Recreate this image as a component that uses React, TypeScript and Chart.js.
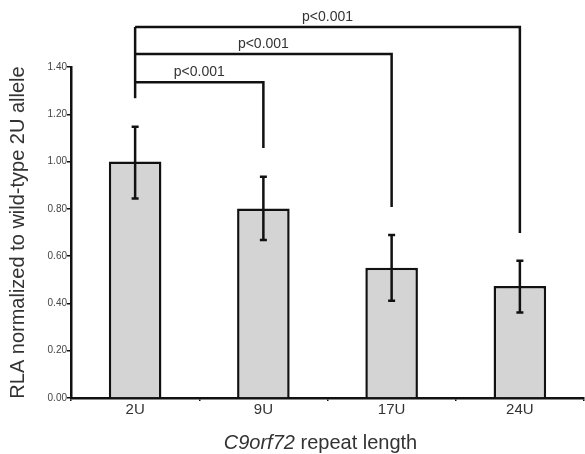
import React, { useEffect, useRef } from "react";
import { Chart, registerables } from "chart.js";

Chart.register(...registerables);

const categories = ["2U", "9U", "17U", "24U"];
const means = [1.0, 0.802, 0.551, 0.474];
const errHigh = [1.147, 0.936, 0.689, 0.581];
const errLow = [0.844, 0.668, 0.411, 0.362];
const yTicks = [0, 0.2, 0.4, 0.6, 0.8, 1.0, 1.2, 1.4];

// significance brackets: from category 0 to target category
const bracketTargets = [1, 2, 3];
const bracketLevels = [1.336, 1.455, 1.569];
const bracketDrops = [1.057, 0.808, 0.698];
const bracketOriginDrop = 1.268;
const bracketLabels = ["p<0.001", "p<0.001", "p<0.001"];

const FONT = "'Liberation Sans', Arial, Helvetica, sans-serif";

const overlayPlugin = {
  id: "overlay",
  afterDatasetsDraw(chart: any) {
    const { ctx, scales } = chart;
    const x = scales.x;
    const y = scales.y;
    ctx.save();
    // error bars
    ctx.strokeStyle = "#111";
    ctx.lineWidth = 2.5;
    ctx.lineCap = "butt";
    for (let i = 0; i < categories.length; i++) {
      const cx = x.getPixelForValue(i);
      const yt = y.getPixelForValue(errHigh[i]);
      const yb = y.getPixelForValue(errLow[i]);
      ctx.beginPath();
      ctx.moveTo(cx, yt);
      ctx.lineTo(cx, yb);
      ctx.stroke();
      ctx.beginPath();
      ctx.moveTo(cx - 3.5, yt);
      ctx.lineTo(cx + 3.5, yt);
      ctx.moveTo(cx - 3.5, yb);
      ctx.lineTo(cx + 3.5, yb);
      ctx.stroke();
    }
    ctx.restore();
  },
  afterDraw(chart: any) {
    const { ctx, scales, chartArea } = chart;
    const x = scales.x;
    const y = scales.y;
    ctx.save();
    // brackets
    ctx.strokeStyle = "#111";
    ctx.lineWidth = 2.5;
    const x0 = x.getPixelForValue(0);
    const topY = y.getPixelForValue(Math.max(...bracketLevels));
    ctx.beginPath();
    ctx.moveTo(x0, topY);
    ctx.lineTo(x0, y.getPixelForValue(bracketOriginDrop));
    ctx.stroke();
    ctx.font = `14px ${FONT}`;
    ctx.fillStyle = "#333";
    ctx.textAlign = "center";
    ctx.textBaseline = "alphabetic";
    for (let i = 0; i < bracketTargets.length; i++) {
      const x1 = x.getPixelForValue(bracketTargets[i]);
      const ly = y.getPixelForValue(bracketLevels[i]);
      const dy = y.getPixelForValue(bracketDrops[i]);
      ctx.beginPath();
      ctx.moveTo(x0, ly);
      ctx.lineTo(x1, ly);
      ctx.lineTo(x1, dy);
      ctx.stroke();
      ctx.fillText(bracketLabels[i], (x0 + x1) / 2, ly - 6);
    }
    // x axis title with italic gene name
    const part1 = "C9orf72";
    const part2 = " repeat length";
    ctx.font = `italic 20px ${FONT}`;
    const w1 = ctx.measureText(part1).width;
    ctx.font = `20px ${FONT}`;
    const w2 = ctx.measureText(part2).width;
    const cx = (chartArea.left + chartArea.right) / 2 - 7;
    const startX = cx - (w1 + w2) / 2;
    const by = chartArea.bottom + 51;
    ctx.textAlign = "left";
    ctx.fillStyle = "#333";
    ctx.font = `italic 20px ${FONT}`;
    ctx.fillText(part1, startX, by);
    ctx.font = `20px ${FONT}`;
    ctx.fillText(part2, startX + w1, by);
    ctx.restore();
  },
};

export default function App() {
  const canvasRef = useRef<HTMLCanvasElement | null>(null);

  useEffect(() => {
    document.body.style.margin = "0";
    const canvas = canvasRef.current;
    if (!canvas) return;
    const chart = new Chart(canvas, {
      type: "bar",
      data: {
        labels: categories,
        datasets: [
          {
            data: means,
            backgroundColor: "#d4d4d4",
            borderColor: "#111",
            borderWidth: 2.5,
            categoryPercentage: 1,
            barPercentage: 0.41,
          },
        ],
      },
      options: {
        animation: false,
        responsive: false,
        maintainAspectRatio: false,
        layout: { padding: { top: 67, right: 1, bottom: 0, left: 0 } },
        plugins: {
          legend: { display: false },
          tooltip: { enabled: false },
        },
        scales: {
          x: {
            offset: true,
            grid: {
              offset: true,
              drawOnChartArea: false,
              drawTicks: true,
              tickLength: 3,
              color: "#111",
              lineWidth: 1.5,
            },
            border: { display: true, color: "#111", width: 2.5 },
            ticks: {
              color: "#333",
              font: { family: FONT, size: 15 },
              padding: 0,
            },
            afterFit: (scale: any) => {
              scale.height = 56;
            },
          },
          y: {
            min: 0,
            max: 1.4,
            afterBuildTicks: (scale: any) => {
              scale.ticks = yTicks.map((v) => ({ value: v }));
            },
            grid: {
              drawOnChartArea: false,
              drawTicks: true,
              tickLength: 4,
              color: "#111",
              lineWidth: 1.5,
            },
            border: { display: true, color: "#111", width: 2.5 },
            ticks: {
              color: "#444",
              font: { family: FONT, size: 10 },
              padding: 0,
              callback: (v: any) => Number(v).toFixed(2),
            },
            title: {
              display: true,
              text: "RLA normalized to wild-type 2U allele",
              color: "#333",
              font: { family: FONT, size: 20 },
              padding: { top: 6, bottom: 0 },
            },
            afterFit: (scale: any) => {
              scale.width = 71;
            },
          },
        },
      },
      plugins: [overlayPlugin],
    });
    return () => chart.destroy();
  }, []);

  return (
    <div style={{ width: 585, height: 454, position: "relative" }}>
      <canvas ref={canvasRef} width={585} height={454} style={{ display: "block" }} />
    </div>
  );
}
